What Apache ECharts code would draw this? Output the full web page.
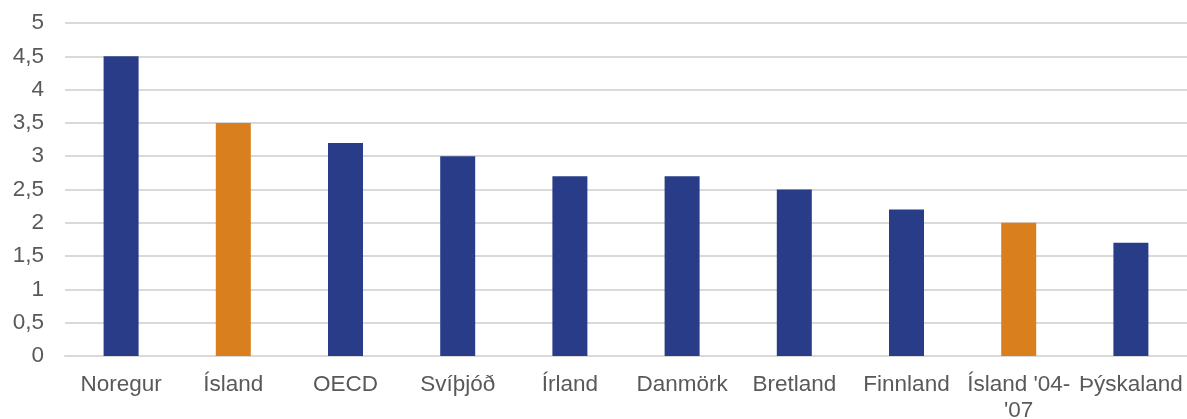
<!DOCTYPE html>
<html>
<head>
<meta charset="utf-8">
<script src="https://cdn.jsdelivr.net/npm/echarts@6/dist/echarts.min.js"></script>
<style>html,body{margin:0;padding:0;background:#fff}#c{width:1187px;height:419px}</style>
</head>
<body>
<div id="c"></div>
<script>
const categories = ["Noregur", "Ísland", "OECD", "Svíþjóð", "Írland", "Danmörk", "Bretland", "Finnland", "Ísland '04-'07", "Þýskaland"];
const values = [4.5, 3.5, 3.2, 3.0, 2.7, 2.7, 2.5, 2.2, 2.0, 1.7];
const highlighted = [false, true, false, false, false, false, false, false, true, false];
const BLUE = "#283C87";
const ORANGE = "#D97F1E";

const chart = echarts.init(document.getElementById('c'), null, {renderer: 'canvas'});
chart.setOption({
  animation: false,
  grid: {left: 65, right: 0, top: 23, bottom: 63, outerBoundsMode: 'none', containLabel: false},
  xAxis: {
    type: 'category',
    data: categories,
    axisLine: {show: true, lineStyle: {color: '#D9D9D9', width: 2}},
    axisTick: {show: false},
    axisLabel: {
      interval: 0,
      margin: 16,
      fontFamily: 'Liberation Sans, Arial, sans-serif',
      fontSize: 22.5,
      lineHeight: 26,
      color: '#595959',
      formatter: v => v.replace("'04-'07", "'04-\n'07")
    }
  },
  yAxis: {
    type: 'value',
    min: 0, max: 5, interval: 0.5,
    axisLine: {show: false},
    axisTick: {show: false},
    splitLine: {lineStyle: {color: '#D9D9D9', width: 2}},
    axisLabel: {
      margin: 21,
      fontFamily: 'Liberation Sans, Arial, sans-serif',
      fontSize: 22.5,
      color: '#595959',
      formatter: v => String(v).replace('.', ',')
    }
  },
  series: [{
    type: 'bar',
    barWidth: 35,
    data: values.map((v, i) => ({value: v, itemStyle: {color: highlighted[i] ? ORANGE : BLUE}}))
  }]
});
</script>
</body>
</html>
